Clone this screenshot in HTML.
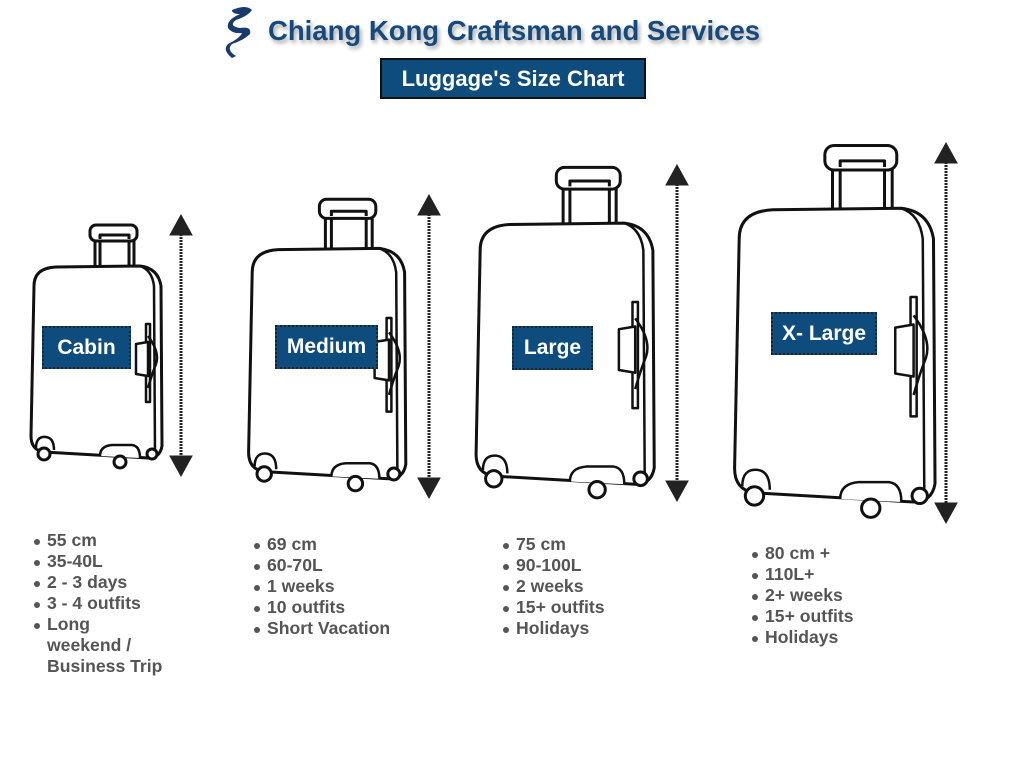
<!DOCTYPE html>
<html><head><meta charset="utf-8">
<style>
html,body{margin:0;padding:0;background:#fff;}
body{width:1024px;height:761px;position:relative;overflow:hidden;font-family:"Liberation Sans",sans-serif;}
.title{position:absolute;left:268px;top:15px;font-size:27.5px;font-weight:bold;color:#174a7c;letter-spacing:0;text-shadow:2px 3px 4px rgba(0,0,0,0.35);white-space:nowrap;}
.sub{position:absolute;left:380px;top:58px;width:262px;height:37px;background:#0e4c7e;border:2px solid #111;color:#fff;font-weight:bold;font-size:22px;line-height:37px;text-align:center;}
.lab{position:absolute;background:#0e4c7e;border:2px dotted #222;color:#fff;font-weight:bold;font-size:21px;text-align:center;box-sizing:border-box;}
ul{position:absolute;margin:0;padding:0;list-style:none;color:#555;font-weight:bold;font-size:17.6px;line-height:21px;}
li{position:relative;padding-left:12px;}
li:before{content:"";position:absolute;left:-1px;top:9px;width:6px;height:6px;border-radius:50%;background:#555;}
</style></head><body>
<svg width="1024" height="761" style="position:absolute;left:0;top:0">
<defs>
<g id="sc" fill="#fff" stroke="#111" stroke-linejoin="round">
 <path vector-effect="non-scaling-stroke" stroke-width="3" d="M67,42 L67,14 M72,42 L72,14 M101,42 L101,14 M106,42 L106,14"/>
 <rect vector-effect="non-scaling-stroke" stroke-width="3" x="62" y="1" width="47" height="16" rx="6"/>
 <rect vector-effect="non-scaling-stroke" stroke-width="2" x="72" y="9" width="29" height="6" fill="#fff" stroke="none"/>
 <path vector-effect="non-scaling-stroke" stroke-width="3" d="M72,15 L72,11 L101,11 L101,15"/>
 <path vector-effect="non-scaling-stroke" stroke-width="3" d="M6,62 Q6,44 28,43 L112,42 Q130,44 133,62 L134,222 Q132,234 120,234 L16,228 Q3,226 3,212 Z"/>
 <path vector-effect="non-scaling-stroke" stroke-width="2.5" fill="none" d="M112,42 Q124,46 126,62 L127,230"/>
 <path vector-effect="non-scaling-stroke" stroke-width="2.5" d="M118,100 L122,100 L122,178 L118,178 Z"/>
 <path vector-effect="non-scaling-stroke" stroke-width="2.5" d="M108,120 L120,118 L120,152 L108,150 Z"/>
 <path vector-effect="non-scaling-stroke" stroke-width="2.5" fill="none" d="M120,112 Q132,128 128,140 Q124,150 120,164"/>
 <path vector-effect="non-scaling-stroke" stroke-width="2.5" d="M8,224 Q8,212 18,213 Q26,214 26,226"/>
 <path vector-effect="non-scaling-stroke" stroke-width="2.5" d="M72,232 Q72,222 84,221 L104,221 Q112,222 112,234"/>
 <circle vector-effect="non-scaling-stroke" stroke-width="3" cx="16" cy="230" r="6"/>
 <circle vector-effect="non-scaling-stroke" stroke-width="3" cx="92" cy="238" r="6"/>
 <circle vector-effect="non-scaling-stroke" stroke-width="3" cx="124" cy="230" r="5"/>
</g>
</defs>
<use href="#sc" transform="translate(28,224)"/>
<use href="#sc" transform="translate(245,198) scale(1.2)"/>
<use href="#sc" transform="translate(472,166) scale(1.36)"/>
<use href="#sc" transform="translate(730,144) scale(1.53)"/>
<g stroke="#222" fill="#222">
 <line x1="181" y1="225" x2="181" y2="465" stroke-width="3" stroke-dasharray="2 1"/>
 <path d="M181,215 L170,235 L192,235 Z M181,476 L170,456 L192,456 Z"/>
 <line x1="429" y1="205" x2="429" y2="487" stroke-width="3" stroke-dasharray="2 1"/>
 <path d="M429,195 L418,215 L440,215 Z M429,498 L418,478 L440,478 Z"/>
 <line x1="677" y1="175" x2="677" y2="490" stroke-width="3" stroke-dasharray="2 1"/>
 <path d="M677,165 L666,185 L688,185 Z M677,501 L666,481 L688,481 Z"/>
 <line x1="946" y1="153" x2="946" y2="512" stroke-width="3" stroke-dasharray="2 1"/>
 <path d="M946,143 L935,163 L957,163 Z M946,523 L935,503 L957,503 Z"/>
</g>
<g fill="#1a3a6e">
 <path d="M232,10 Q246,4 252,10 Q248,16 236,20 Q228,26 240,28 Q252,26 250,34 Q244,40 232,44 Q226,50 236,56 L232,58 Q222,50 228,44 Q240,38 242,33 Q232,34 228,28 Q226,20 240,14 Q232,14 232,10 Z"/>
</g>
</svg>
<div class="title">Chiang Kong Craftsman and Services</div>
<div class="sub">Luggage's Size Chart</div>
<div class="lab" style="left:42px;top:326px;width:89px;height:43px;line-height:39px;">Cabin</div>
<div class="lab" style="left:275px;top:325px;width:103px;height:44px;line-height:40px;">Medium</div>
<div class="lab" style="left:512px;top:326px;width:81px;height:44px;line-height:40px;">Large</div>
<div class="lab" style="left:771px;top:312px;width:106px;height:43px;line-height:39px;">X- Large</div>
<ul style="left:35px;top:530px;width:140px;"><li>55 cm</li><li>35-40L</li><li>2 - 3 days</li><li>3 - 4 outfits</li><li>Long<br>weekend /<br>Business Trip</li></ul>
<ul style="left:255px;top:534px;"><li>69 cm</li><li>60-70L</li><li>1 weeks</li><li>10 outfits</li><li>Short Vacation</li></ul>
<ul style="left:504px;top:534px;"><li>75 cm</li><li>90-100L</li><li>2 weeks</li><li>15+ outfits</li><li>Holidays</li></ul>
<ul style="left:753px;top:543px;"><li>80 cm +</li><li>110L+</li><li>2+ weeks</li><li>15+ outfits</li><li>Holidays</li></ul>
</body></html>
